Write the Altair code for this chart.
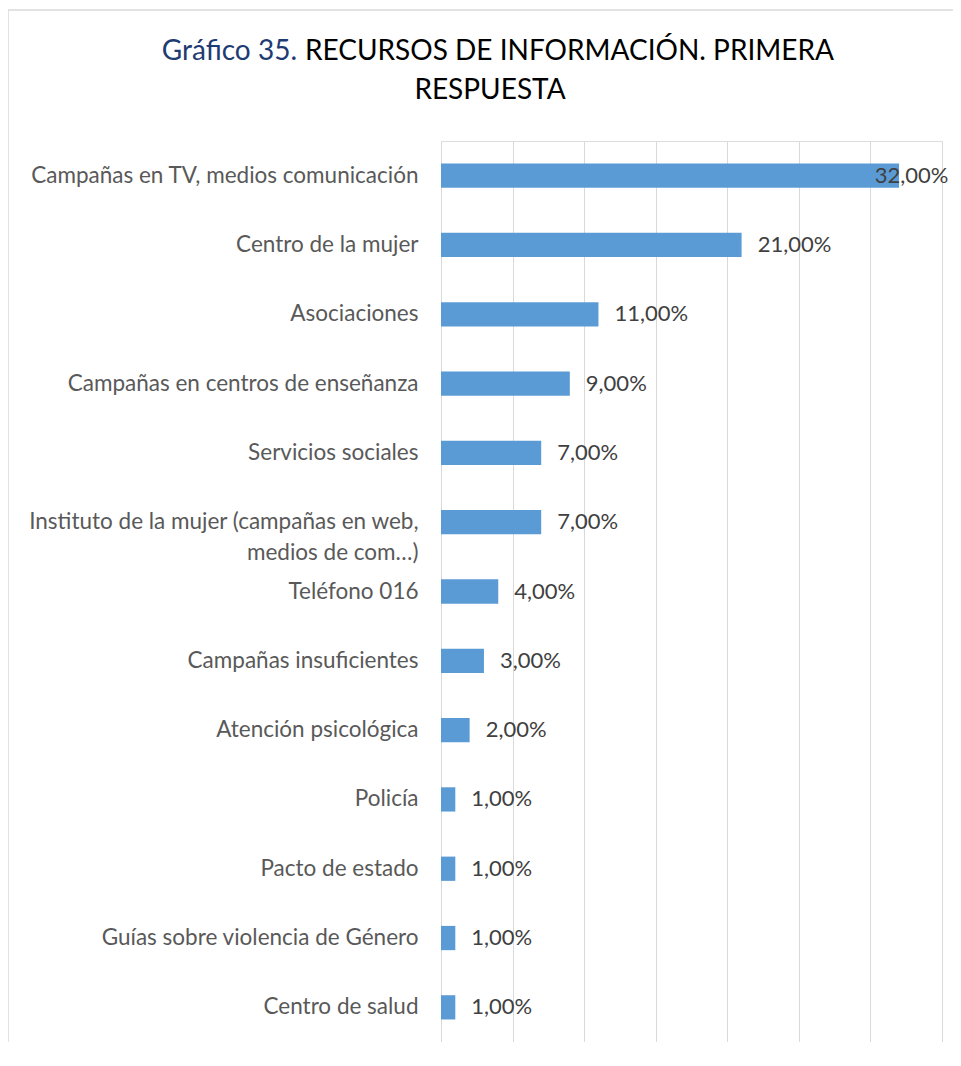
import altair as alt
import pandas as pd

categories = [
    "Campañas en TV, medios comunicación",
    "Centro de la mujer",
    "Asociaciones",
    "Campañas en centros de enseñanza",
    "Servicios sociales",
    "Instituto de la mujer (campañas en web, medios de com…)",
    "Teléfono 016",
    "Campañas insuficientes",
    "Atención psicológica",
    "Policía",
    "Pacto de estado",
    "Guías sobre violencia de Género",
    "Centro de salud",
]
values = [32, 21, 11, 9, 7, 7, 4, 3, 2, 1, 1, 1, 1]

title_prefix = "Gráfico 35."
title_line1 = "RECURSOS DE INFORMACIÓN. PRIMERA"
title_line2 = "RESPUESTA"

df = pd.DataFrame({"cat": categories, "v": values})

FONT = "Lato"
W, H = 501, 901
PAD_L, PAD_T = 433, 133

split_at = categories[5].index(", medios") + 1
label_expr = (
    f"length(datum.label) > 45 ? [slice(datum.label, 0, {split_at}), "
    f"slice(datum.label, {split_at + 1})] : datum.label"
)

y_enc = alt.Y(
    "cat:N",
    sort=categories,
    scale=alt.Scale(paddingInner=0.65, paddingOuter=0.325),
    axis=alt.Axis(
        title=None, domain=False, ticks=False, labelFont=FONT, labelFontSize=22.5,
        labelColor="#595959", labelPadding=23, labelLimit=430,
        labelExpr=label_expr, labelLineHeight=31,
    ),
)

x_scale = alt.Scale(domain=[0, 35], nice=False)

base = alt.Chart(df)

bars = base.mark_bar(color="#5B9BD5").encode(
    x=alt.X("v:Q", scale=x_scale, axis=alt.Axis(
        title=None, labels=False, ticks=False, domain=False,
        values=[0, 5, 10, 15, 20, 25, 30, 35],
        grid=True, gridColor="#d9d9d9", gridWidth=1)),
    y=y_enc,
)

labels = base.transform_calculate(
    lx="min(datum.v + 1.12, 30.3)",
    txt="replace(format(datum.v, '.2f'), '.', ',') + '%'",
).mark_text(align="left", baseline="middle", font=FONT, fontSize=22,
            color="#404040").encode(
    x=alt.X("lx:Q", scale=x_scale),
    y=alt.Y("cat:N", sort=categories),
    text="txt:N",
)

one = pd.DataFrame({"k": [0]})
t_prefix = alt.Chart(one).mark_text(
    align="right", baseline="middle", font=FONT, fontSize=28, color="#1F3B73"
).encode(x=alt.value(-144), y=alt.value(-89), text=alt.value(title_prefix))
t_line1 = alt.Chart(one).mark_text(
    align="left", baseline="middle", font=FONT, fontSize=28, color="#000000"
).encode(x=alt.value(-136), y=alt.value(-89), text=alt.value(title_line1))
t_line2 = alt.Chart(one).mark_text(
    align="center", baseline="middle", font=FONT, fontSize=28, color="#000000"
).encode(x=alt.value(49), y=alt.value(-50), text=alt.value(title_line2))

border_top = alt.Chart(one).mark_rule(color="#d9d9d9", strokeWidth=1.5).encode(
    x=alt.value(-433), x2=alt.value(W + 40), y=alt.value(-131))
border_left = alt.Chart(one).mark_rule(color="#d9d9d9", strokeWidth=1.5).encode(
    x=alt.value(-433), y=alt.value(-131), y2=alt.value(H + 40))

chart = alt.layer(
    border_top, border_left, bars, labels, t_prefix, t_line1, t_line2
).properties(
    width=W, height=H,
    autosize=alt.AutoSizeParams(type="none"),
    padding={"left": PAD_L, "top": PAD_T, "right": 11, "bottom": 0},
).configure_view(stroke=None).configure(background="white")

chart.save("out.html", embed_options={"renderer": "svg", "actions": False})
